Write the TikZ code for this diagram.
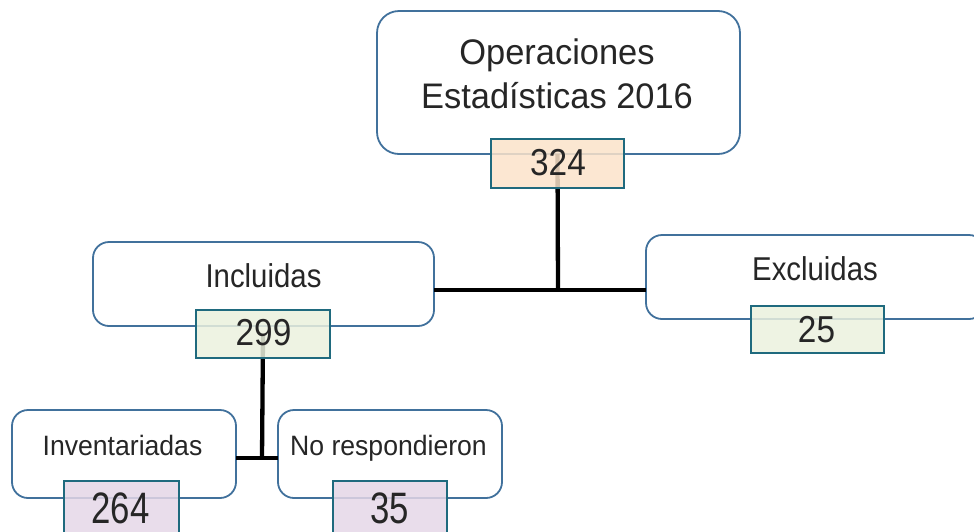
\documentclass[tikz,border=0pt]{standalone}
\usepackage{fontspec}
\setmainfont{Liberation Sans}
\newfontfamily\fA[FakeStretch=0.97]{Liberation Sans}
\newfontfamily\fB[FakeStretch=0.89]{Liberation Sans}
\newfontfamily\fC[FakeStretch=0.95]{Liberation Sans}
\newfontfamily\fD[FakeStretch=0.79]{Liberation Sans}
\definecolor{rborder}{HTML}{41719C}
\definecolor{nborder}{HTML}{1F6A7E}
\definecolor{peach}{HTML}{FBE3CA}
\definecolor{lgreen}{HTML}{EBF1DE}
\definecolor{lpurple}{HTML}{E5D7E7}
\definecolor{txt}{HTML}{262626}
\tikzset{
  rbox/.style={draw=rborder, line width=1.8pt, fill=white, rounded corners=16pt, inner sep=0pt, outer sep=0pt},
  nbox/.style={draw=nborder, line width=1.8pt, fill opacity=0.85, inner sep=0pt, outer sep=0pt},
  conn/.style={draw=black, line width=4.3pt},
  lbl/.style={text=txt, inner sep=0pt, anchor=base}
}
\begin{document}
\begin{tikzpicture}[x=1pt,y=-1pt]
\useasboundingbox (0,0) rectangle (974,531);
% rounded boxes
\node[rbox, rounded corners=22pt, minimum width=363pt, minimum height=143pt] (op) at (558.5,82.5) {};
\node[rbox, minimum width=341pt, minimum height=84pt] (incl) at (263.5,284) {};
\node[rbox, minimum width=339pt, minimum height=84pt] (excl) at (815.5,277) {};
\node[rbox, minimum width=224pt, minimum height=88pt] (inv) at (124,454) {};
\node[rbox, minimum width=224pt, minimum height=88pt] (nor) at (390,454) {};
% junctions and number box centres
\coordinate (j1) at (558,290);
\coordinate (j2) at (262,458);
\coordinate (c324) at (557.5,163.5);
\coordinate (c299) at (263,334);
% connectors
\draw[conn] (c324 |- op.south) -- (j1);
\draw[conn] (incl.east |- j1) -- (excl.west |- j1);
\draw[conn] (c299) -- (j2);
\draw[conn] (inv.east |- j2) -- (nor.west |- j2);
% number boxes
\node[nbox, fill=peach, minimum width=133pt, minimum height=49pt] (n324) at (c324) {};
\node[nbox, fill=lgreen, minimum width=134pt, minimum height=48pt] (n299) at (c299) {};
\node[nbox, fill=lgreen, minimum width=133pt, minimum height=47pt] (n25) at (817.5,329.5) {};
\node[nbox, fill=lpurple, minimum width=115pt, minimum height=60pt] (n264) at (121.5,511) {};
\node[nbox, fill=lpurple, minimum width=114pt, minimum height=60pt] (n35) at (390,511) {};
% texts
\node[lbl, anchor=center, align=center, font=\fA\fontsize{35.5}{44}\selectfont] (topt) at (557,74) {Operaciones\\Estadísticas 2016};
\node[lbl, font=\fB\fontsize{33}{36}\selectfont] (tincl) at (263.5,287) {Incluidas};
\node[lbl, font=\fB\fontsize{33}{36}\selectfont] (texcl) at (815,280) {Excluidas};
\node[lbl, font=\fC\fontsize{28}{32}\selectfont] (tinv) at (122.5,455) {Inventariadas};
\node[lbl, font=\fC\fontsize{28}{32}\selectfont] (tnor) at (388.5,455) {No respondieron};
\node[lbl, font=\fB\fontsize{37.5}{40}\selectfont] (t324) at (558,175) {324};
\node[lbl, font=\fB\fontsize{37.5}{40}\selectfont] (t299) at (263.5,345) {299};
\node[lbl, font=\fB\fontsize{37.5}{40}\selectfont] (t25) at (816.5,342) {25};
\node[lbl, font=\fD\fontsize{44}{46}\selectfont] (t264) at (120.5,523) {264};
\node[lbl, font=\fD\fontsize{44}{46}\selectfont] (t35) at (390,523) {35};
\end{tikzpicture}
\end{document}
